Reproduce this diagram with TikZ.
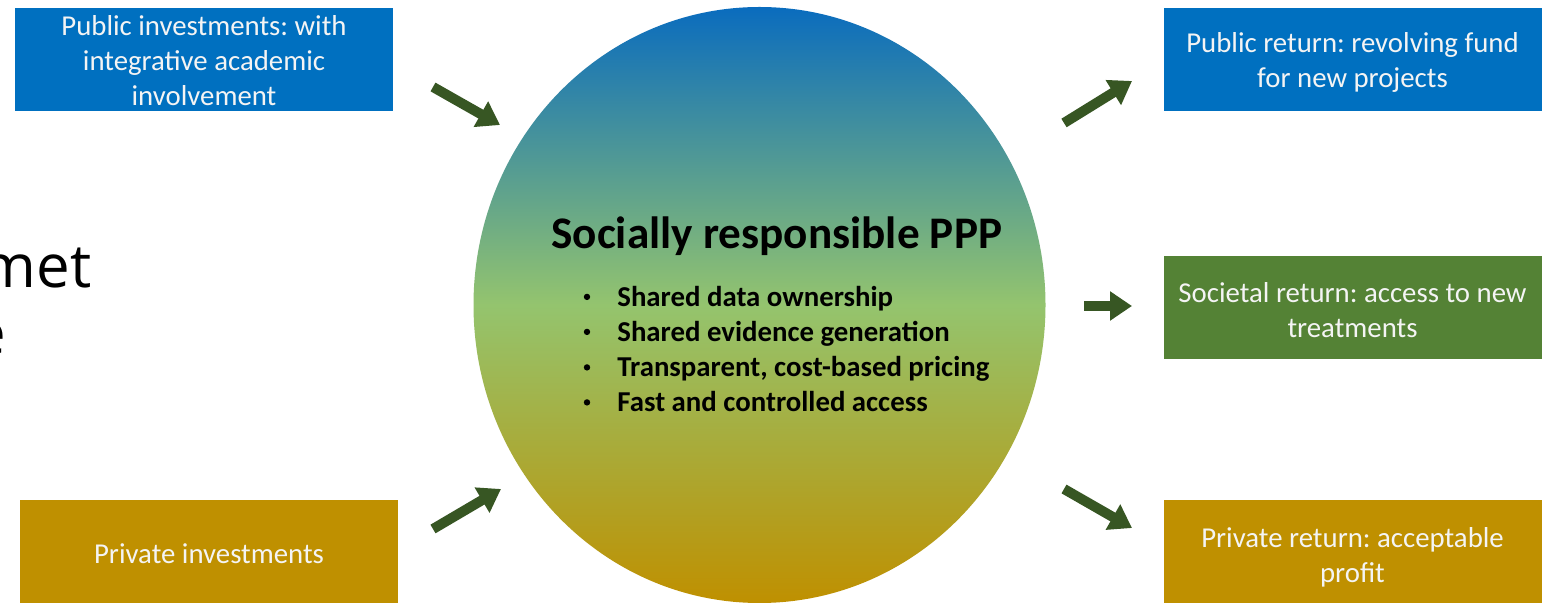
\documentclass[tikz,border=0pt]{standalone}
\usepackage{fontspec}
\setmainfont{Carlito}
\newfontfamily\bgfont{Open Sans}
\usetikzlibrary{arrows.meta,shapes.geometric}
\frenchspacing
\definecolor{pubblue}{HTML}{0070C0}
\definecolor{privgold}{HTML}{BF9000}
\definecolor{socgreen}{HTML}{548235}
\definecolor{arrowgreen}{HTML}{375623}
\definecolor{shadeblue}{HTML}{0A6CBE}
\definecolor{shadegreen}{HTML}{94C46E}
\definecolor{boxtext}{HTML}{F4F4F4}
\pgfdeclareverticalshading{pppshade}{100bp}{color(0bp)=(privgold); color(25bp)=(privgold); color(50bp)=(shadegreen); color(75bp)=(shadeblue); color(100bp)=(shadeblue)}
\tikzset{
  sidebox/.style={rectangle, inner sep=0pt, minimum width=189pt, minimum height=51.5pt,
    align=center, text=boxtext,
    font=\fontsize{14.4pt}{17.5pt}\selectfont},
  boxlabel/.style={inner sep=0pt, align=center, text=boxtext,
    font=\fontsize{14.4pt}{17.5pt}\selectfont},
  garrow/.style={draw=arrowgreen, line width=5pt,
    -{Triangle[width=14pt,length=11pt]}},
  bullettext/.style={anchor=base west, inner sep=0pt,
    font=\fontsize{14.4pt}{17.5pt}\selectfont\bfseries},
  bulletdot/.style={circle, fill=black, inner sep=0pt, minimum size=3.2pt},
  bgtext/.style={anchor=base east, inner sep=0pt,
    font=\bgfont\fontsize{30pt}{33.5pt}\selectfont}
}
\begin{document}
\begin{tikzpicture}[x=0.5pt,y=-0.5pt]
\useasboundingbox (0,0) rectangle (1542,603);
\fill[white] (0,0) rectangle (1542,603);
% background text fragments
\node[bgtext] (bg1) at (92,288) {met};
\node[bgtext] (bg2) at (7,355) {e};
% central ellipse
\node[ellipse, inner sep=0pt, minimum width=286pt, minimum height=298pt,
  shading=pppshade] (ppp) at (759.5,305) {};
\node[anchor=base west, inner sep=0pt, font=\fontsize{22.6pt}{27pt}\selectfont\bfseries]
  (title) at (551,249) {Socially responsible PPP};
\node[bullettext] (b1) at (617,306.5) {Shared data ownership};
\node[bullettext] (b2) at (617,341.5) {Shared evidence generation};
\node[bullettext] (b3) at (617,377) {Transparent, cost-based pricing};
\node[bullettext] (b4) at (617,412) {Fast and controlled access};
\foreach \n in {b1,b2,b3,b4}
  \node[bulletdot] at ([xshift=-15pt,yshift=4.8pt]\n.base west) {};
% side boxes
\node[sidebox, fill=pubblue] (pubinv) at (204,59.5) {};
\node[boxlabel] at (204,61) {Public investments: with\\integrative academic\\involvement};
\node[sidebox, fill=privgold] (privinv) at (209,552) {};
\node[boxlabel] at (209,553.5) {Private investments};
\node[sidebox, fill=pubblue] (pubret) at (1352.5,59.5) {};
\node[boxlabel] at (1352.5,62.5) {Public return: revolving fund\\for new projects};
\node[sidebox, fill=socgreen] (socret) at (1352.5,307.5) {};
\node[boxlabel] at (1352.5,310) {Societal return: access to new\\treatments};
\node[sidebox, fill=privgold] (privret) at (1352.5,551.5) {};
\node[boxlabel] at (1352.5,557) {Private return: acceptable\\profit};
% arrow end points
\coordinate (a1s) at (433,87);   \coordinate (a1e) at (500,125);
\coordinate (a2s) at (433,529);  \coordinate (a2e) at (501,489);
\coordinate (a3s) at (1064,123); \coordinate (a3e) at (1132,81);
\coordinate (a4s) at (1084,306); \coordinate (a4e) at (1132,306);
\coordinate (a5s) at (1064,489); \coordinate (a5e) at (1132,528);
\draw[garrow] (a1s) -- (a1e);
\draw[garrow] (a2s) -- (a2e);
\draw[garrow] (a3s) -- (a3e);
\draw[garrow] (a4s) -- (a4e);
\draw[garrow] (a5s) -- (a5e);
\end{tikzpicture}
\end{document}
